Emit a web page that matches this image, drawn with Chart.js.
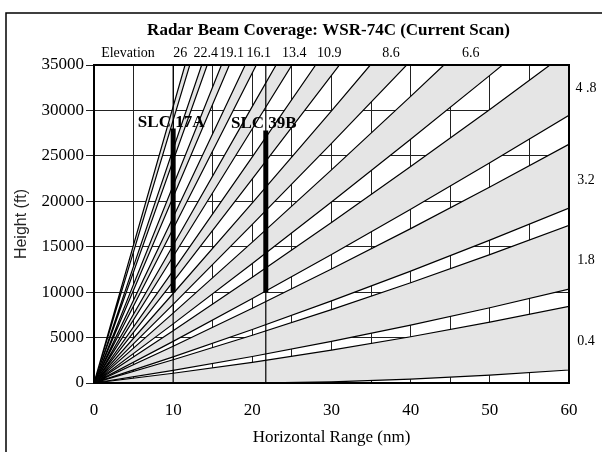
<!DOCTYPE html>
<html>
<head>
<meta charset="utf-8">
<script src="https://cdn.jsdelivr.net/npm/chart.js@4"></script>
<style>
  html, body { margin: 0; padding: 0; background: #fff; }
</style>
</head>
<body>
<canvas id="chart" width="602" height="452"></canvas>
<script>
// Elevacion de cada haz (grados), de abajo hacia arriba
const elevations = ['0.4', '1.8', '3.2', '4.8', '6.6', '8.6', '10.9', '13.4', '16.1', '19.1', '22.4', '26'];

// Borde inferior de cada haz: [rango nm, altura ft]
const beamLower = [
  [[0, 0], [20, 0], [30, 119], [40, 424], [50, 861], [60, 1430]],
  [[0, 0], [10, 1392], [20, 2917], [30, 4573], [40, 6363], [50, 8285], [60, 10339]],
  [[0, 0], [10, 2879], [20, 5890], [30, 9034], [40, 12310], [50, 15719], [60, 19259]],
  [[0, 0], [10, 4581], [20, 9295], [30, 14141], [40, 19120], [50, 24231], [60, 29474]],
  [[0, 0], [10, 6506], [20, 13145], [30, 19916], [40, 26820], [50, 33856], [51.6, 35000]],
  [[0, 0], [10, 8659], [20, 17451], [30, 26375], [39.5, 35000]],
  [[0, 0], [10, 11163], [20, 22459], [31.0, 35000]],
  [[0, 0], [10, 13926], [20, 27985], [25.0, 35000]],
  [[0, 0], [10, 16972], [20.5, 35000]],
  [[0, 0], [17.1, 35000]],
  [[0, 0], [14.3, 35000]],
  [[0, 0], [12.1, 35000]]
];

// Borde superior de cada haz
const beamUpper = [
  [[0, 0], [10, 1074], [20, 2280], [30, 3619], [40, 5090], [50, 6694], [60, 8429]],
  [[0, 0], [10, 2560], [20, 5252], [30, 8077], [40, 11034], [50, 14124], [60, 17345]],
  [[0, 0], [10, 4048], [20, 8230], [30, 12543], [40, 16990], [50, 21568], [60, 26278]],
  [[0, 0], [10, 5756], [20, 11645], [30, 17666], [40, 23820], [50, 30106], [57.6, 35000]],
  [[0, 0], [10, 7688], [20, 15509], [30, 23462], [40, 31548], [44.2, 35000]],
  [[0, 0], [10, 9852], [20, 19837], [30, 29954], [34.9, 35000]],
  [[0, 0], [10, 12373], [20, 24879], [28.0, 35000]],
  [[0, 0], [10, 15159], [20, 30451], [23.0, 35000]],
  [[0, 0], [10, 18236], [19.1, 35000]],
  [[0, 0], [16.1, 35000]],
  [[0, 0], [13.6, 35000]],
  [[0, 0], [11.5, 35000]]
];

// Etiquetas de elevacion arriba (rango nm donde van) y a la derecha (altura ft)
const topLabels   = ['26', '22.4', '19.1', '16.1', '13.4', '10.9', '8.6', '6.6'];
const topLabelNm  = [10.9, 14.1, 17.4, 20.8, 25.3, 29.7, 37.5, 47.6];
const rightLabels = ['0.4', '1.8', '3.2', '4 .8'];
const rightLabelFt = [4620, 13540, 22340, 32470];

// Sitios de lanzamiento
const sites     = ['SLC 17A', 'SLC 39B'];
const siteNm    = [10, 21.7];
const siteBase  = 10000;
const siteTopFt = [28000, 27800];

const X_MAX = 60;
const Y_MAX = 35000;
const SERIF = '"Liberation Serif", "DejaVu Serif", serif';

// Poligono de cada haz: borde inferior ida, borde superior vuelta
const beamSets = elevations.map((elev, i) => {
  const low = beamLower[i];
  const up = beamUpper[i];
  const pts = low.map(p => ({ x: p[0], y: p[1] }));
  const lastLow = low[low.length - 1];
  const lastUp = up[up.length - 1];
  if (lastLow[0] === X_MAX && lastLow[1] < Y_MAX && lastUp[1] === Y_MAX) {
    pts.push({ x: X_MAX, y: Y_MAX });
  }
  up.slice().reverse().forEach(p => pts.push({ x: p[0], y: p[1] }));
  return {
    label: elev,
    data: pts,
    order: 2,
    showLine: true,
    fill: 'shape',
    backgroundColor: '#e5e5e5',
    borderColor: '#000',
    borderWidth: 1.2,
    pointRadius: 0
  };
});

// Lineas de los sitios (encima de los haces: order menor se dibuja al final)
const siteSets = [];
sites.forEach((s, i) => {
  siteSets.push({
    label: s + ' range',
    data: [{ x: siteNm[i], y: 0 }, { x: siteNm[i], y: Y_MAX }],
    order: 1,
    showLine: true, fill: false, borderColor: '#000', borderWidth: 1.2, pointRadius: 0
  });
  siteSets.push({
    label: s,
    data: [{ x: siteNm[i], y: siteBase }, { x: siteNm[i], y: siteTopFt[i] }],
    order: 0,
    showLine: true, fill: false, borderColor: '#000', borderWidth: 5,
    borderCapStyle: 'butt', pointRadius: 0
  });
});

// Textos, marco del area y marco exterior
const decor = {
  id: 'decor',
  afterDraw(chart) {
    const { ctx, chartArea: a, scales } = chart;
    const xs = scales.x, ys = scales.y;
    ctx.save();
    ctx.strokeStyle = '#000';
    ctx.lineWidth = 2;
    ctx.strokeRect(a.left, a.top, a.right - a.left, a.bottom - a.top);

    ctx.fillStyle = '#000';
    ctx.textAlign = 'center';
    ctx.textBaseline = 'middle';
    ctx.font = 'bold 17px ' + SERIF;
    ctx.fillText('Radar Beam Coverage: WSR-74C (Current Scan)', (a.left + a.right) / 2 - 3, 31);

    ctx.font = '14px ' + SERIF;
    ctx.fillText('Elevation', a.left + 34, a.top - 12);
    topLabels.forEach((t, i) => {
      ctx.fillText(t, xs.getPixelForValue(topLabelNm[i]), a.top - 12);
    });
    rightLabels.forEach((t, i) => {
      ctx.fillText(t, a.right + 17, ys.getPixelForValue(rightLabelFt[i]));
    });

    ctx.font = 'bold 17px ' + SERIF;
    ctx.textBaseline = 'alphabetic';
    sites.forEach((s, i) => {
      ctx.fillText(s, xs.getPixelForValue(siteNm[i]) - 2, ys.getPixelForValue(siteTopFt[i]) - 2);
    });

    ctx.lineWidth = 1.5;
    ctx.beginPath();
    ctx.moveTo(6, 460);
    ctx.lineTo(6, 13);
    ctx.lineTo(610, 13);
    ctx.stroke();
    ctx.restore();
  }
};

new Chart(document.getElementById('chart').getContext('2d'), {
  type: 'scatter',
  data: { datasets: siteSets.concat(beamSets) },
  options: {
    responsive: false,
    animation: false,
    events: [],
    layout: { padding: { top: 65, right: 33, left: 0, bottom: 0 } },
    plugins: { legend: { display: false }, tooltip: { enabled: false } },
    scales: {
      x: {
        type: 'linear', min: 0, max: X_MAX,
        afterFit: s => { s.height = 69; },
        ticks: {
          stepSize: 5, color: '#000', padding: 17,
          font: { family: SERIF, size: 17 },
          callback: v => (v % 10 === 0 ? String(v) : '')
        },
        grid: { color: '#222', lineWidth: 1, drawTicks: false },
        border: { display: true, color: '#000', width: 2 },
        title: {
          display: true, text: 'Horizontal Range (nm)', color: '#000',
          font: { family: SERIF, size: 17 }, padding: { top: 0, bottom: 4 }
        }
      },
      y: {
        type: 'linear', min: 0, max: Y_MAX,
        afterFit: s => { s.width = 94; },
        ticks: {
          stepSize: 5000, color: '#000', padding: 2,
          font: { family: SERIF, size: 17 },
          callback: v => String(v)
        },
        grid: { color: '#222', lineWidth: 1, tickLength: 8 },
        border: { display: true, color: '#000', width: 2 },
        title: {
          display: true, text: 'Height (ft)', color: '#222',
          font: { family: '"Liberation Sans", Arial, sans-serif', size: 16 },
          padding: { top: 12, bottom: 0 }
        }
      }
    }
  },
  plugins: [decor]
});
</script>
</body>
</html>
